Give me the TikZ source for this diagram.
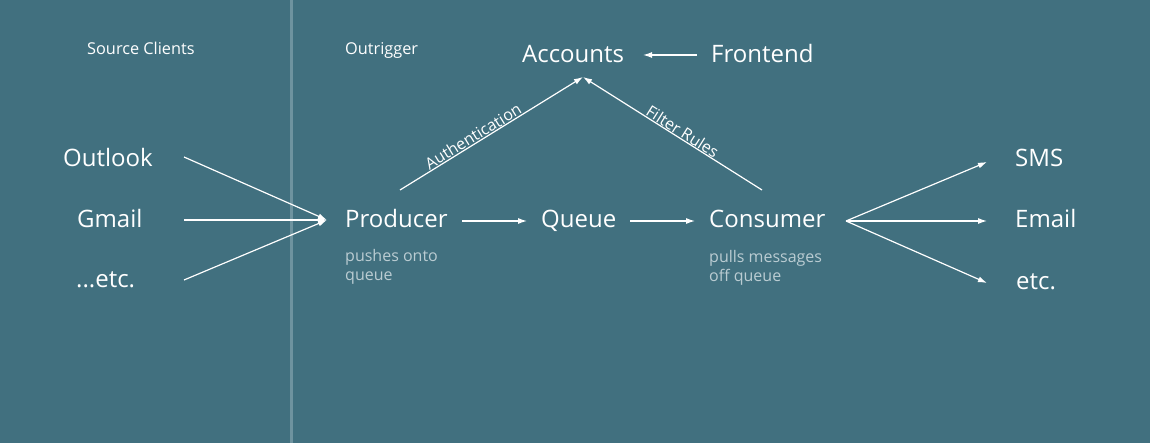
\documentclass[tikz,border=0pt]{standalone}
\usepackage{fontspec}
\setmainfont{Open Sans}
\usetikzlibrary{arrows.meta}
\definecolor{bgc}{HTML}{41707F}
\definecolor{divc}{HTML}{6E939F}
\definecolor{subc}{HTML}{BACCD2}
\tikzset{
  x=1pt,y=-1pt,
  big/.style={text=white,font=\fontsize{24}{28}\selectfont,inner sep=0pt,anchor=base west},
  head/.style={text=white,font=\fontsize{16.3}{19}\selectfont,inner sep=0pt,anchor=base west},
  sub/.style={text=subc,font=\fontsize{16}{19.5}\selectfont,inner sep=0pt,align=left,anchor=base west},
  conn/.style={draw=white,line width=1.2pt,-{Latex[length=9pt,width=6pt]}},
  lbl/.style={text=white,font=\fontsize{16}{18}\selectfont,inner sep=0.5pt}
}
\begin{document}
\begin{tikzpicture}
\fill[bgc] (0,0) rectangle (1150,443);
\useasboundingbox (0,0) rectangle (1150,443);
\fill[divc] (290,0) rectangle (293,443);

\node[head] (src) at (87,55) {Source Clients};
\node[head] (outr) at (345,55) {Outrigger};

\node[big] (acc) at (522,63) {Accounts};
\node[big] (front) at (711,63) {Frontend};

\node[big] (outlook) at (63,167) {Outlook};
\node[big] (gmail) at (77,228) {Gmail};
\node[big] (etc1) at (76,288) {...etc.};

\node[big] (prod) at (345,228) {Producer};
\node[sub] (prodsub) at (345,281) {pushes onto\\queue};
\node[big] (queue) at (541,228) {Queue};
\node[big] (cons) at (709,228) {Consumer};
\node[sub] (conssub) at (709,282) {pulls messages\\off queue};

\node[big] (sms) at (1015,167) {SMS};
\node[big] (email) at (1015,228) {Email};
\node[big] (etc2) at (1016,290) {etc.};

% connector end points
\coordinate (ofrom) at (184,157);
\coordinate (gfrom) at (184,220);
\coordinate (efrom) at (184,280);
\coordinate (pin) at (327,220);
\coordinate (pout) at (462,221);
\coordinate (qin) at (527,221);
\coordinate (qout) at (630,221);
\coordinate (cin) at (695,221);
\coordinate (cout) at (846,221);
\coordinate (smsin) at (987,162);
\coordinate (emailin) at (987,221);
\coordinate (etcin) at (987,283);
\coordinate (authfrom) at (400,190);
\coordinate (accin) at (583,77);
\coordinate (filtfrom) at (762,190);
\coordinate (frout) at (697,55);
\coordinate (accright) at (643,55);

\draw[conn] (ofrom) -- (pin);
\draw[conn] (gfrom) -- (pin);
\draw[conn] (efrom) -- (pin);
\draw[conn] (pout) -- (qin);
\draw[conn] (qout) -- (cin);
\draw[conn] (cout) -- (smsin);
\draw[conn] (cout) -- (emailin);
\draw[conn] (cout) -- (etcin);
\draw[conn] (frout) -- (accright);
\draw[conn] (authfrom) -- node[lbl,sloped,above,pos=0.42] {Authentication} (accin);
\draw[conn] (filtfrom) -- node[lbl,sloped,above,pos=0.465] {Filter Rules} (accin);
\end{tikzpicture}
\end{document}
